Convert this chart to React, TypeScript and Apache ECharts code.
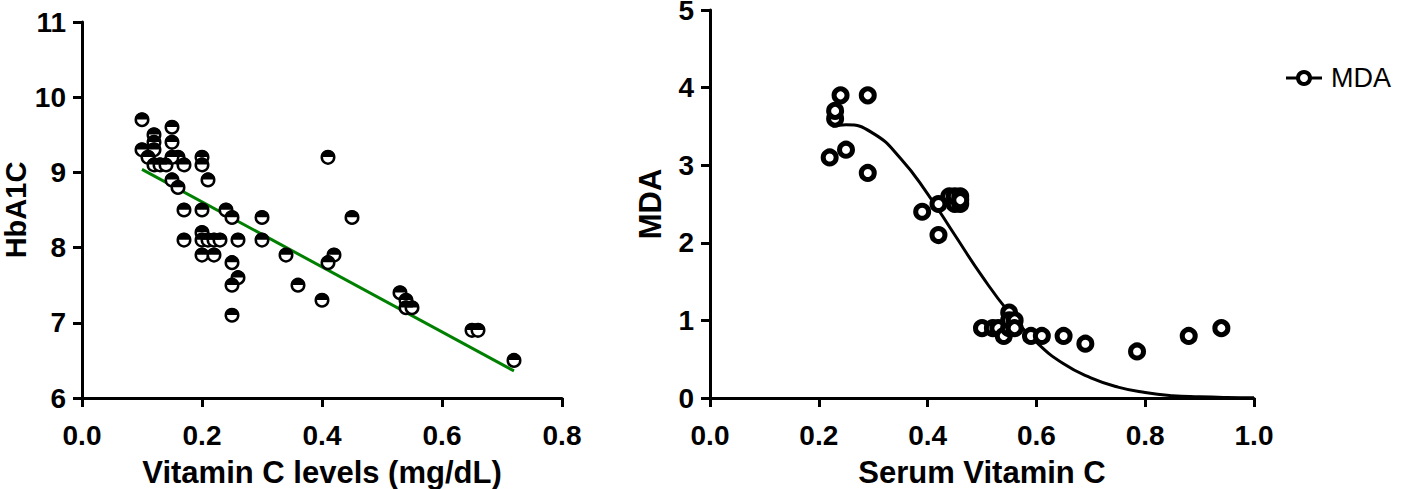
import React, { useEffect, useRef } from "react";
import * as echarts from "echarts";

// Left panel: Vitamin C levels (mg/dL) vs HbA1C
const vitC: number[] = [0.10, 0.10, 0.12, 0.12, 0.12, 0.11, 0.12, 0.13, 0.14, 0.15, 0.15, 0.16, 0.15, 0.17, 0.15, 0.16, 0.20, 0.20, 0.21, 0.17, 0.20, 0.24, 0.25, 0.30, 0.45, 0.41, 0.17, 0.20, 0.20, 0.21, 0.22, 0.23, 0.26, 0.30, 0.20, 0.22, 0.34, 0.42, 0.41, 0.25, 0.26, 0.25, 0.36, 0.25, 0.40, 0.53, 0.54, 0.54, 0.55, 0.65, 0.66, 0.72];
const hba1c: number[] = [9.7, 9.3, 9.5, 9.4, 9.3, 9.2, 9.1, 9.1, 9.1, 9.6, 9.4, 9.2, 9.2, 9.1, 8.9, 8.8, 9.2, 9.1, 8.9, 8.5, 8.5, 8.5, 8.4, 8.4, 8.4, 9.2, 8.1, 8.2, 8.1, 8.1, 8.1, 8.1, 8.1, 8.1, 7.9, 7.9, 7.9, 7.9, 7.8, 7.8, 7.6, 7.5, 7.5, 7.1, 7.3, 7.4, 7.3, 7.2, 7.2, 6.9, 6.9, 6.5];
const fitLeftX: number[] = [0.10, 0.72];
const fitLeftY: number[] = [9.04, 6.36];

// Right panel: Serum Vitamin C vs MDA
const serumC: number[] = [0.22, 0.23, 0.23, 0.24, 0.25, 0.29, 0.29, 0.39, 0.42, 0.42, 0.44, 0.45, 0.45, 0.46, 0.46, 0.46, 0.50, 0.52, 0.53, 0.54, 0.55, 0.55, 0.55, 0.56, 0.56, 0.59, 0.61, 0.65, 0.69, 0.785, 0.88, 0.94];
const mda: number[] = [3.1, 3.6, 3.7, 3.9, 3.2, 3.9, 2.9, 2.4, 2.5, 2.1, 2.6, 2.5, 2.6, 2.6, 2.5, 2.55, 0.9, 0.9, 0.9, 0.8, 0.9, 1.1, 1.0, 1.0, 0.9, 0.8, 0.8, 0.8, 0.7, 0.6, 0.8, 0.9];
const curveX: number[] = [0.225, 0.25, 0.30, 0.35, 0.40, 0.45, 0.50, 0.55, 0.60, 0.65, 0.70, 0.75, 0.80, 0.85, 0.90, 0.95, 1.0];
const curveY: number[] = [3.50, 3.52, 3.41, 3.09, 2.63, 2.10, 1.57, 1.10, 0.72, 0.44, 0.26, 0.14, 0.07, 0.03, 0.015, 0.006, 0.002];

const leftXTicks = { min: 0, max: 0.8, interval: 0.2 };
const leftYTicks = { min: 6, max: 11, interval: 1 };
const rightXTicks = { min: 0, max: 1, interval: 0.2 };
const rightYTicks = { min: 0, max: 5, interval: 1 };

const FONT = "'Liberation Sans', Arial, Helvetica, sans-serif";

function zip(a: number[], b: number[]) {
  return a.map((v, i) => [v, b[i]]);
}

export default function App() {
  const ref = useRef<HTMLDivElement>(null);
  useEffect(() => {
    if (!ref.current) return;
    const chart = echarts.init(ref.current, null, { renderer: "svg" });
    const axisLine = { show: true, onZero: false, lineStyle: { color: "#000", width: 3 } };
    const axisTick = { show: true, length: 9, inside: false, lineStyle: { color: "#000", width: 3 } };
    const tickLabel = (digits: number, margin: number, lineHeight?: number) => ({
      color: "#000",
      fontSize: 28,
      fontWeight: "bold" as const,
      fontFamily: FONT,
      margin,
      ...(lineHeight ? { lineHeight } : {}),
      formatter: (v: number) => v.toFixed(digits),
    });
    const nameStyle = { color: "#000", fontSize: 31, lineHeight: 26, fontWeight: "bold" as const, fontFamily: FONT };
    const yNameStyle = { ...nameStyle, fontSize: 29 };
    const halfDisc = "path://M0,10 A10,10 0 0 1 20,10 Z";

    chart.setOption({
      animation: false,
      backgroundColor: "#fff",
      grid: [
        { left: 82, top: 22, width: 480, height: 376, containLabel: false, outerBoundsMode: "none" },
        { left: 710, top: 10, width: 544, height: 388, containLabel: false, outerBoundsMode: "none" },
      ],
      xAxis: [
        {
          gridIndex: 0, type: "value", ...leftXTicks,
          axisLine, axisTick, splitLine: { show: false },
          axisLabel: tickLabel(1, 23),
          name: "Vitamin C levels (mg/dL)", nameLocation: "middle", nameGap: 61, nameTextStyle: nameStyle,
        },
        {
          gridIndex: 1, type: "value", ...rightXTicks,
          axisLine, axisTick, splitLine: { show: false },
          axisLabel: tickLabel(1, 23),
          name: "Serum Vitamin C", nameLocation: "middle", nameGap: 61, nameTextStyle: nameStyle,
        },
      ],
      yAxis: [
        {
          gridIndex: 0, type: "value", ...leftYTicks,
          axisLine, axisTick, splitLine: { show: false },
          axisLabel: tickLabel(0, 16, 20),
          name: "HbA1C", nameLocation: "middle", nameGap: 53, nameTextStyle: yNameStyle,
        },
        {
          gridIndex: 1, type: "value", ...rightYTicks,
          axisLine, axisTick, splitLine: { show: false },
          axisLabel: tickLabel(0, 16, 20),
          name: "MDA", nameLocation: "middle", nameGap: 47, nameTextStyle: nameStyle,
        },
      ],
      series: [
        {
          type: "line", xAxisIndex: 0, yAxisIndex: 0,
          data: zip(fitLeftX, fitLeftY), showSymbol: false, symbol: "none",
          lineStyle: { color: "#008000", width: 3 }, z: 1,
        },
        {
          type: "scatter", xAxisIndex: 0, yAxisIndex: 0,
          data: zip(vitC, hba1c), symbol: "circle", symbolSize: 12.5,
          itemStyle: { color: "#fff", borderColor: "#000", borderWidth: 2.5, opacity: 1 }, z: 2,
        },
        {
          type: "scatter", xAxisIndex: 0, yAxisIndex: 0,
          data: zip(vitC, hba1c), symbol: halfDisc, symbolSize: [14, 7], symbolOffset: [0, -3.8],
          itemStyle: { color: "#000", opacity: 1 }, z: 3,
        },
        {
          type: "line", xAxisIndex: 1, yAxisIndex: 1,
          data: zip(curveX, curveY), showSymbol: false, symbol: "none", smooth: 0.5,
          lineStyle: { color: "#000", width: 3 }, z: 1,
        },
        {
          type: "scatter", xAxisIndex: 1, yAxisIndex: 1, name: "MDA",
          data: zip(serumC, mda), symbol: "circle", symbolSize: 13,
          itemStyle: { color: "#fff", borderColor: "#000", borderWidth: 5, opacity: 1 }, z: 2,
        },
      ],
      graphic: [
        { type: "line", shape: { x1: 1286, y1: 78, x2: 1322, y2: 78 }, style: { stroke: "#000", lineWidth: 3 } },
        { type: "circle", shape: { cx: 1304, cy: 78, r: 6 }, style: { fill: "#fff", stroke: "#000", lineWidth: 4 } },
        {
          type: "text", x: 1331, y: 78,
          style: { text: "MDA", fill: "#000", fontSize: 27, fontFamily: FONT, verticalAlign: "middle", align: "left" },
        },
      ],
    });
    return () => chart.dispose();
  }, []);
  return (
    <div
      ref={ref}
      style={{ position: "fixed", left: 0, top: 0, width: 1413, height: 489, background: "#fff" }}
    />
  );
}
